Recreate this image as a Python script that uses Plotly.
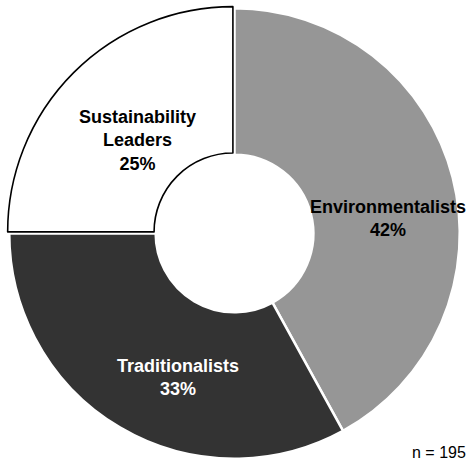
import plotly.graph_objects as go

# Segment shares (percent of respondents)
segments = ["Environmentalists", "Traditionalists", "Sustainability Leaders"]
shares = [42, 33, 25]
fill_colors = ["#969696", "#333333", "#ffffff"]
edge_colors = ["#ffffff", "#ffffff", "#000000"]
edge_widths = [2.5, 2.5, 1.6]
slice_pull = [0, 0, 0.01]
sample_note = "n = 195"

W, H = 472, 464
# pie centre and outer radius in pixels
CX, CY, RAD = 234.5, 233.5, 225
half = RAD * (1 + max(slice_pull))
L, R = CX - half, W - (CX + half)
T, B = CY - half, H - (CY + half)
plot_w, plot_h = W - L - R, H - T - B

fig = go.Figure(
    go.Pie(
        labels=segments,
        values=shares,
        hole=0.35,
        sort=False,
        direction="clockwise",
        rotation=0,
        pull=slice_pull,
        textinfo="none",
        hoverinfo="label+percent",
        marker=dict(colors=fill_colors, line=dict(color=edge_colors, width=edge_widths)),
        showlegend=False,
    )
)


def px(x, y):
    return (x - L) / plot_w, (H - B - y) / plot_h


label_font = dict(family="Arial, Liberation Sans, sans-serif", size=18)
label_specs = [
    ("<b>Sustainability<br>Leaders<br>%d%%</b>" % shares[2], 137.5, 141, "#000000"),
    ("<b>Environmentalists<br>%d%%</b>" % shares[0], 387.5, 219, "#000000"),
    ("<b>Traditionalists<br>%d%%</b>" % shares[1], 178.5, 377, "#ffffff"),
]
annotations = []
for text, x, y, color in label_specs:
    ax, ay = px(x, y)
    annotations.append(
        dict(
            text=text, x=ax, y=ay, xref="paper", yref="paper",
            xanchor="center", yanchor="middle", showarrow=False,
            font=dict(label_font, color=color),
        )
    )

nx, ny = px(468, 452)
annotations.append(
    dict(
        text=sample_note, x=nx, y=ny, xref="paper", yref="paper",
        xanchor="right", yanchor="middle", showarrow=False,
        font=dict(family="Arial, Liberation Sans, sans-serif", size=16, color="#000000"),
    )
)

fig.update_layout(
    width=W,
    height=H,
    margin=dict(l=L, r=R, t=T, b=B, pad=0),
    paper_bgcolor="white",
    plot_bgcolor="white",
    annotations=annotations,
)

fig.write_html("out.html")
